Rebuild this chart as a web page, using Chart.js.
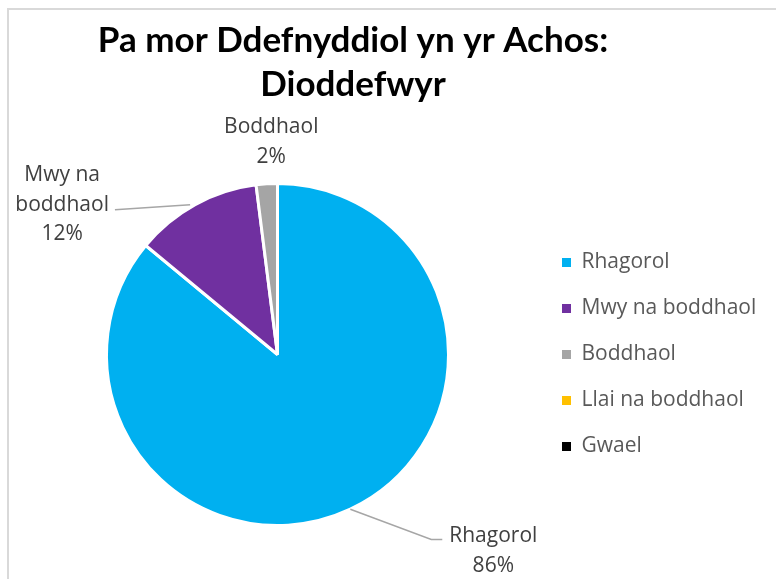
<!DOCTYPE html>
<html>
<head>
<meta charset="utf-8">
<script src="https://cdn.jsdelivr.net/npm/chart.js@4.4.1/dist/chart.umd.min.js"></script>
<style>
  body { margin: 0; background: #fff; }
  #wrap { position: relative; width: 776px; height: 579px; overflow: hidden; }
  #frame { position: absolute; left: 7px; top: 8px; width: 900px; height: 700px;
           border-top: 2px solid #d9d9d9; border-left: 2px solid #d9d9d9; }
  #myPieChart { position: absolute; left: 0; top: 0; }
</style>
</head>
<body>
<div id="wrap">
  <div id="frame"></div>
  <canvas id="myPieChart" width="776" height="579"></canvas>
</div>
<script>
// Pie Chart - Pa mor Ddefnyddiol yn yr Achos: Dioddefwyr
const titleLines = ['Pa mor Ddefnyddiol yn yr Achos:', 'Dioddefwyr'];
const categories = ['Rhagorol', 'Mwy na boddhaol', 'Boddhaol', 'Llai na boddhaol', 'Gwael'];
const shares = [86, 12, 2, 0, 0];

// title, drawn centred over the pie + legend like Excel does
const chartTitle = {
    id: 'chartTitle',
    afterDraw(chart) {
        const ctx = chart.ctx;
        ctx.save();
        ctx.fillStyle = '#000';
        ctx.font = 'bold 35px Lato';
        ctx.textAlign = 'center';
        ctx.textBaseline = 'middle';
        titleLines.forEach((t, i) => ctx.fillText(t, 353, 41 + i * 44));
        ctx.restore();
    }
};

function wrapWords(ctx, text, maxW) {
    const words = text.split(' ');
    const lines = [];
    let cur = '';
    words.forEach(w => {
        const test = cur ? cur + ' ' + w : w;
        if (cur && ctx.measureText(test).width > maxW) {
            lines.push(cur);
            cur = w;
        } else {
            cur = test;
        }
    });
    if (cur) lines.push(cur);
    return lines;
}

// data labels outside the pie with leader lines
const pieLabels = {
    id: 'pieLabels',
    afterDatasetsDraw(chart, args, opts) {
        const ctx = chart.ctx;
        const meta = chart.getDatasetMeta(0);
        const total = shares.reduce((a, b) => a + b, 0);
        ctx.save();
        ctx.font = '21px "Open Sans"';
        ctx.textAlign = 'center';
        ctx.textBaseline = 'middle';
        meta.data.forEach((arc, i) => {
            const place = opts.places[i];
            if (!place || !shares[i]) return;
            const p = arc.getProps(['x', 'y', 'startAngle', 'endAngle', 'outerRadius'], true);
            const mid = (p.startAngle + p.endAngle) / 2;
            const ax = p.x + Math.cos(mid) * p.outerRadius;
            const ay = p.y + Math.sin(mid) * p.outerRadius;
            const cx = ax + place.dx, cy = ay + place.dy;
            const lines = wrapWords(ctx, categories[i], 105);
            lines.push(Math.round(shares[i] / total * 100) + '%');
            const lh = 29.5;
            const top = cy - (lines.length - 1) * lh / 2;
            const maxW = Math.max(...lines.map(l => ctx.measureText(l).width));

            ctx.strokeStyle = '#a6a6a6';
            ctx.lineWidth = 1.5;
            if (place.leader === 'right') {
                const ex = cx - maxW / 2 - 7, ey = top + 3;
                ctx.beginPath();
                ctx.moveTo(ax, ay);
                ctx.lineTo(ex - 11, ey);
                ctx.lineTo(ex, ey);
                ctx.stroke();
            } else if (place.leader === 'left') {
                const ex = cx + maxW / 2 + 6, ey = cy + 5;
                ctx.beginPath();
                ctx.moveTo(ax - 5, ay);
                ctx.lineTo(ex, ey);
                ctx.stroke();
            }

            ctx.fillStyle = '#404040';
            lines.forEach((l, k) => ctx.fillText(l, cx, top + k * lh));
        });
        ctx.restore();
    }
};

// keep the legend column a fixed width so the pie sits where it does in the original
const fixedLegend = {
    id: 'fixedLegend',
    afterInit(chart) {
        const legend = chart.legend;
        const fit = legend.fit;
        legend.fit = function () {
            fit.call(this);
            this.width = 239;
            this.minSize && (this.minSize.width = 239);
        };
    }
};

const ctx = document.getElementById('myPieChart').getContext('2d');
const myChart = new Chart(ctx, {
    type: 'pie',
    data: {
        labels: categories,
        datasets: [{
            label: 'Dioddefwyr',
            data: shares,
            backgroundColor: ['#00B0F0', '#7030A0', '#A5A5A5', '#FFC000', '#000000'],
            borderColor: '#ffffff',
            borderWidth: 3
        }]
    },
    options: {
        responsive: false,
        animation: false,
        layout: {
            padding: { top: 182, bottom: 52, left: 18, right: 0 }
        },
        plugins: {
            title: { display: false },
            tooltip: { enabled: false },
            legend: {
                position: 'right',
                labels: {
                    boxWidth: 9,
                    boxHeight: 9,
                    padding: 25,
                    color: '#595959',
                    font: { family: '"Open Sans"', size: 21 },
                    generateLabels(chart) {
                        return Chart.controllers.pie.overrides.plugins.legend.labels
                            .generateLabels(chart).map(l => ({ ...l, lineWidth: 0 }));
                    }
                }
            },
            pieLabels: {
                places: [
                    { dx: 143, dy: 42, leader: 'right' },
                    { dx: -133, dy: 0, leader: 'left' },
                    { dx: 4.5, dy: -42, leader: 'none' }
                ]
            }
        }
    },
    plugins: [fixedLegend, pieLabels, chartTitle]
});
</script>
</body>
</html>
